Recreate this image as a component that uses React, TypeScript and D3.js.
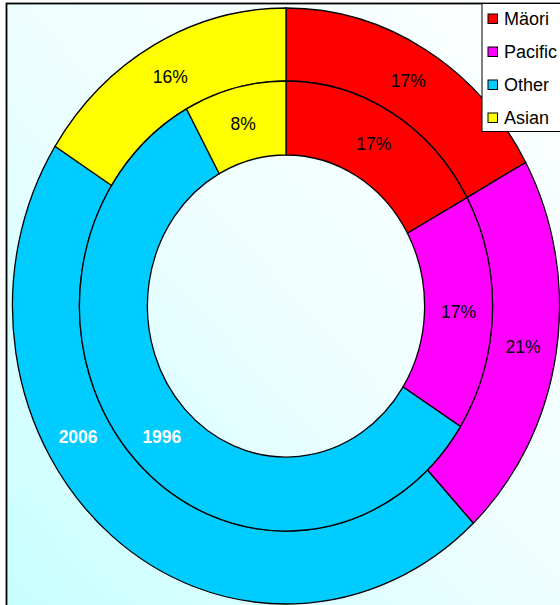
import React from "react";
import * as d3 from "d3";

const categories = ["Mäori", "Pacific", "Other", "Asian"];
const colors = ["#ff0000", "#ff00ff", "#00ccff", "#ffff00"];
const values2006 = [17, 21, 46, 16];
const values1996 = [17, 17, 58, 8];
const ringLabels = ["2006", "1996"];

const W = 560;
const H = 605;
const CX = 286;
const CY = 306;
const SX = 0.918;
const R_OUT = 298;
const R_MID = 225;
const R_IN = 151;
const FONT = "'Liberation Sans', Arial, sans-serif";

export default function App() {
  const pie = d3
    .pie<number>()
    .sort(null)
    .value((d) => d)
    .startAngle(0)
    .endAngle(2 * Math.PI);

  const rings = [
    { values: values2006, inner: R_MID, outer: R_OUT, label: ringLabels[0], labelAngle: 240 },
    { values: values1996, inner: R_IN, outer: R_MID, label: ringLabels[1], labelAngle: 226 },
  ];

  return (
    <svg
      width={W}
      height={H}
      style={{ position: "absolute", left: 0, top: 0, display: "block" }}
      fontFamily={FONT}
    >
      <defs>
        <linearGradient id="bg" x1="1" y1="0" x2="0" y2="1">
          <stop offset="0" stopColor="#ffffff" />
          <stop offset="0.5" stopColor="#eefeff" />
          <stop offset="1" stopColor="#c6ffff" />
        </linearGradient>
        <clipPath id="plotClip">
          <rect x={6} y={3} width={W} height={H} />
        </clipPath>
      </defs>
      <rect x={0} y={0} width={W} height={H} fill="#ffffff" />
      <rect x={6.5} y={3.5} width={W + 20} height={H + 20} fill="url(#bg)" stroke="#000" strokeWidth={1.8} />
      <g clipPath="url(#plotClip)">
        <g transform={`translate(${CX},${CY}) scale(${SX},1)`}>
          {rings.map((ring, ri) => {
            const arc = d3.arc<d3.PieArcDatum<number>>().innerRadius(ring.inner).outerRadius(ring.outer);
            return pie(ring.values).map((a, i) => (
              <path
                key={`${ri}-${i}`}
                d={arc(a) || ""}
                fill={colors[i]}
                stroke="#000"
                strokeWidth={1.3}
                vectorEffect="non-scaling-stroke"
              />
            ));
          })}
        </g>
        {rings.map((ring, ri) => {
          const arc = d3.arc<d3.PieArcDatum<number>>().innerRadius(ring.inner).outerRadius(ring.outer);
          return pie(ring.values).map((a, i) => {
            if (categories[i] === "Other") return null;
            const [x, y] = arc.centroid(a);
            return (
              <text
                key={`l-${ri}-${i}`}
                x={CX + x * SX}
                y={CY + y}
                textAnchor="middle"
                dominantBaseline="central"
                fontSize={17.5}
                fill="#000"
              >
                {`${ring.values[i]}%`}
              </text>
            );
          });
        })}
        {rings.map((ring, ri) => {
          const r = (ring.inner + ring.outer) / 2;
          const ang = (ring.labelAngle * Math.PI) / 180;
          const x = CX + Math.sin(ang) * r * SX;
          const y = CY - Math.cos(ang) * r;
          return (
            <text
              key={`y-${ri}`}
              x={x}
              y={y}
              textAnchor="middle"
              dominantBaseline="central"
              fontSize={17.5}
              fontWeight="bold"
              fill="#ffffff"
            >
              {ring.label}
            </text>
          );
        })}
        <g>
          <rect x={482} y={3.5} width={100} height={128} fill="#ffffff" stroke="#000" strokeWidth={1} />
          {categories.map((c, i) => (
            <g key={c} transform={`translate(488,${19 + i * 33})`}>
              <rect x={0} y={-5} width={9.5} height={9.5} fill={colors[i]} stroke="#000" strokeWidth={1} />
              <text x={16} y={0} dominantBaseline="central" fontSize={18} fill="#000">
                {c}
              </text>
            </g>
          ))}
        </g>
      </g>
    </svg>
  );
}
